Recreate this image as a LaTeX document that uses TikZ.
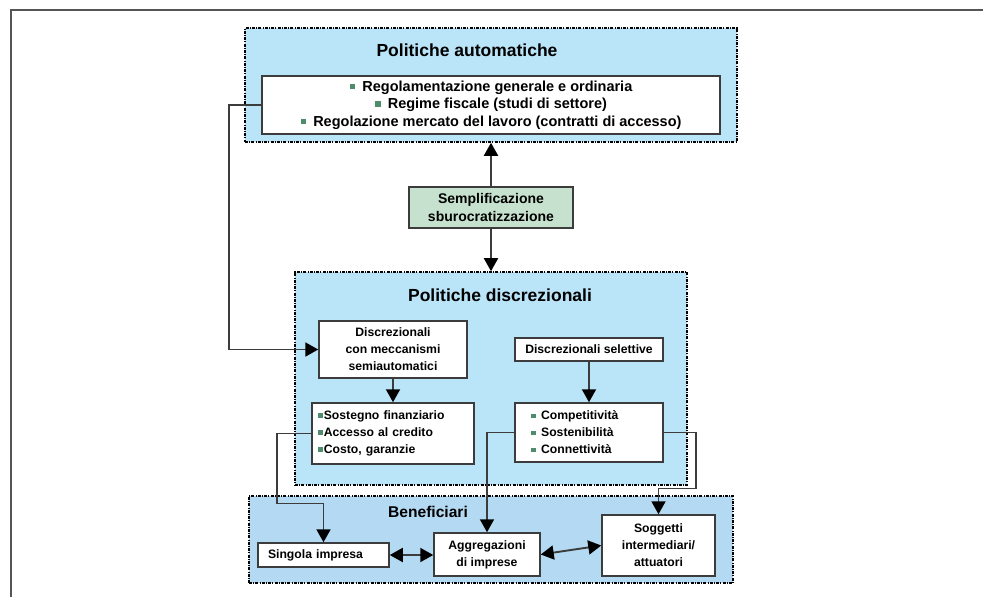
\documentclass[tikz,border=0pt]{standalone}
\usepackage{fontspec}
\setmainfont{Liberation Sans}
\usetikzlibrary{arrows.meta,positioning,calc}
\usepackage{xcolor}
\definecolor{SkyFill}{HTML}{BAE4F8}
\definecolor{BenFill}{HTML}{B4DAF3}
\definecolor{MintFill}{HTML}{C6E2CE}
\definecolor{BulGreen}{HTML}{4F8C6C}
\definecolor{Wire}{HTML}{3C3C3C}
\definecolor{FrameGray}{HTML}{555555}
\newcommand{\Sq}{\textcolor{BulGreen}{\rule[0.25ex]{0.38em}{0.38em}}}
\newcommand{\Fs}[2]{\bfseries\fontsize{#1}{#2}\selectfont}

\begin{document}
\begin{tikzpicture}[x=1pt,y=-1pt,
  panel/.style={draw=black,line width=1.6pt,dash pattern=on 3pt off 1.2pt on 1pt off 1.2pt,fill=SkyFill,inner sep=0pt},
  whitebox/.style={draw=Wire,line width=1.5pt,fill=white,inner sep=0pt,align=center,font=\Fs{12.2}{17}},
  wire/.style={draw=Wire,line width=1.9pt},
  onearrow/.style={-{Triangle[length=13pt,width=14pt,color=black]}},
  twoarrow/.style={{Triangle[length=13pt,width=14pt,color=black]}-{Triangle[length=13pt,width=14pt,color=black]}}]
\useasboundingbox (0,0) rectangle (983,597);
\draw[FrameGray,line width=1.2pt] (11,597) -- (11,10) -- (983,10);
% panels
\node[panel,minimum width=492pt,minimum height=114pt] (autom) at (491,85) {};
\node[font=\Fs{17.5}{20}] (automtitle) at (467,50) {Politiche automatiche};
\node[panel,minimum width=392pt,minimum height=213pt] (discr) at (491,378.5) {};
\node[font=\Fs{17.5}{20}] (discrtitle) at (500,295) {Politiche discrezionali};
\node[panel,fill=BenFill,minimum width=484pt,minimum height=87pt] (benef) at (491,539.5) {};
\node[font=\Fs{15.6}{18}] (beneftitle) at (428,512) {Beneficiari};
% boxes
\node[whitebox,minimum width=458pt,minimum height=58pt,font=\Fs{14.5}{17.5}] (autolist) at (491,105)
  {\Sq\hspace{0.5em}Regolamentazione generale e ordinaria\\
   \Sq\hspace{0.5em}Regime fiscale (studi di settore)\\
   \Sq\hspace{0.5em}Regolazione mercato del lavoro (contratti di accesso)};
\node[whitebox,fill=MintFill,minimum width=164pt,minimum height=41pt,font=\Fs{14}{18}] (sempl) at (491,207.5)
  {Semplificazione\\sburocratizzazione};
\node[whitebox,minimum width=148pt,minimum height=57pt] (semiauto) at (393,349.5)
  {Discrezionali\\con meccanismi\\semiautomatici};
\node[whitebox,inner xsep=6pt,text width=150pt,align=left,minimum height=61pt] (sostegno) at (393,433.5)
  {\Sq\hspace{0.1em}Sostegno finanziario\\\Sq\hspace{0.1em}Accesso al credito\\\Sq\hspace{0.1em}Costo, garanzie};
\node[whitebox,minimum width=148pt,minimum height=23pt] (selett) at (589,349.5) {Discrezionali selettive};
\node[whitebox,inner xsep=16pt,text width=116pt,align=left,minimum height=59pt] (compet) at (589,432.5)
  {\Sq\hspace{0.45em}Competitività\\\Sq\hspace{0.45em}Sostenibilità\\\Sq\hspace{0.45em}Connettività};
\node[whitebox,inner xsep=10pt,text width=111pt,align=left,minimum height=24pt] (singola) at (323.5,555) {Singola impresa};
\node[whitebox,minimum width=106pt,minimum height=43pt] (aggreg) at (487,554.5) {Aggregazioni\\di imprese};
\node[whitebox,minimum width=113pt,minimum height=61pt] (sogg) at (658.5,545.5) {Soggetti\\intermediari/\\attuatori};
% connectors
\draw[wire,onearrow] (sempl.north) -- (autom.south);
\draw[wire,onearrow] (sempl.south) -- (discr.north);
\draw[wire,onearrow] (autolist.west) -- ++(-32,0) |- (semiauto.west);
\draw[wire,onearrow] (semiauto.south) -- (sostegno.north);
\draw[wire,onearrow] (selett.south) -- (compet.north);
\draw[wire,onearrow] (sostegno.west) -- ++(-34,0) -- ++(0,70) -| (singola.north);
\draw[wire,onearrow] (compet.west) -| (aggreg.north);
\draw[wire,onearrow] (compet.east) -- ++(32,0) -- ++(0,56) -| (sogg.north);
\draw[wire,twoarrow] (singola.east) -- (singola.east -| aggreg.west);
\draw[wire,twoarrow] (aggreg.east) -- (sogg.west);
\end{tikzpicture}
\end{document}
